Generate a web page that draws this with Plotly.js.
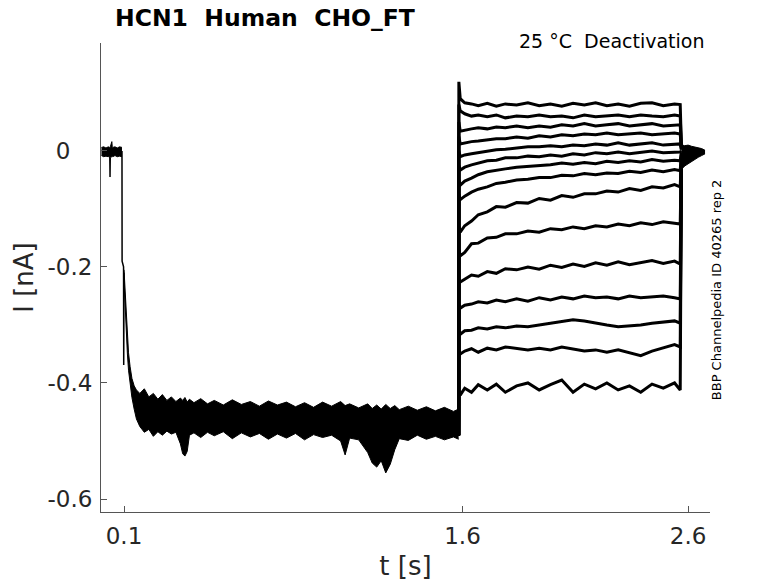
<!DOCTYPE html>
<html>
<head>
<meta charset="utf-8">
<script src="https://cdn.plot.ly/plotly-3.0.1.min.js"></script>
<style>
  html, body { margin: 0; padding: 0; background: #fff; }
  #chart { width: 778px; height: 583px; }
</style>
</head>
<body>
<div id="chart"></div>
<script>
// baseline before the hyperpolarising step (s, nA)
const tPre = [0, 0.01, 0.02, 0.03, 0.036, 0.038, 0.040, 0.046, 0.048, 0.05, 0.06, 0.07, 0.08, 0.091];
const iPreUpper = [0.006, 0.007, 0.005, 0.007, 0.006, 0.006, 0.008, 0.016, 0.007, 0.006, 0.007, 0.005, 0.007, 0.006];
const iPreLower = [-0.008, -0.010, -0.009, -0.010, -0.009, -0.045, -0.012, -0.010, -0.009, -0.010, -0.008, -0.010, -0.009, -0.010];

// capacitive transient at the step
const tOn = [0.091, 0.0915, 0.098, 0.0987, 0.1];
const iOn = [0.0, -0.19, -0.20, -0.369, -0.21];

// hyperpolarised phase, all sweeps overlap: upper / lower edge of the bundle
const tHyp = [0.100, 0.105, 0.110, 0.115, 0.120, 0.127, 0.135, 0.145, 0.155, 0.170,
  0.190, 0.210, 0.230, 0.250, 0.270, 0.290, 0.310, 0.330, 0.350, 0.360,
  0.370, 0.380, 0.390, 0.410, 0.440, 0.470, 0.500, 0.540, 0.580, 0.620,
  0.660, 0.700, 0.740, 0.780, 0.820, 0.860, 0.900, 0.940, 0.980, 1.020,
  1.060, 1.080, 1.100, 1.140, 1.180, 1.200, 1.220, 1.240, 1.260, 1.280,
  1.300, 1.320, 1.360, 1.400, 1.440, 1.480, 1.520, 1.560, 1.583];
const iHypUpper = [-0.205, -0.245, -0.285, -0.320, -0.348, -0.372, -0.392, -0.405, -0.412, -0.418,
  -0.410, -0.424, -0.418, -0.428, -0.420, -0.430, -0.424, -0.432, -0.426, -0.430,
  -0.425, -0.433, -0.428, -0.434, -0.427, -0.436, -0.430, -0.438, -0.429, -0.437,
  -0.432, -0.440, -0.431, -0.438, -0.433, -0.441, -0.434, -0.442, -0.433, -0.440,
  -0.432, -0.439, -0.436, -0.443, -0.436, -0.444, -0.438, -0.445, -0.437, -0.444,
  -0.439, -0.446, -0.440, -0.447, -0.441, -0.448, -0.442, -0.449, -0.445];
const iHypLower = [-0.225, -0.275, -0.315, -0.350, -0.378, -0.405, -0.425, -0.445, -0.462, -0.475,
  -0.485, -0.480, -0.492, -0.484, -0.490, -0.483, -0.488, -0.485, -0.505, -0.522,
  -0.526, -0.518, -0.490, -0.486, -0.494, -0.485, -0.491, -0.484, -0.496, -0.486,
  -0.493, -0.487, -0.497, -0.488, -0.495, -0.487, -0.498, -0.489, -0.494, -0.490,
  -0.500, -0.524, -0.495, -0.498, -0.520, -0.538, -0.545, -0.534, -0.555, -0.540,
  -0.515, -0.496, -0.499, -0.490, -0.497, -0.492, -0.498, -0.493, -0.497];

// deactivation steps
const tStep = 1.583;
const iStepFrom = -0.49;
const tDeact = [1.59, 1.61, 1.64, 1.67, 1.71, 1.75, 1.79, 1.84, 1.89, 1.94, 1.99, 2.04,
  2.09, 2.14, 2.19, 2.24, 2.29, 2.34, 2.39, 2.44, 2.49, 2.54, 2.565];
const deact1 = [0.090, 0.083, 0.081, 0.078, 0.082, 0.077, 0.081, 0.079, 0.083, 0.078, 0.081, 0.077, 0.082, 0.079, 0.083, 0.078, 0.081, 0.077, 0.082, 0.083, 0.078, 0.081, 0.080];
const deact2 = [0.069, 0.064, 0.060, 0.062, 0.059, 0.062, 0.057, 0.060, 0.059, 0.062, 0.059, 0.060, 0.057, 0.062, 0.059, 0.060, 0.062, 0.059, 0.062, 0.060, 0.059, 0.062, 0.060];
const deact3 = [0.034, 0.036, 0.038, 0.040, 0.038, 0.041, 0.040, 0.043, 0.040, 0.043, 0.041, 0.045, 0.043, 0.047, 0.043, 0.045, 0.047, 0.043, 0.045, 0.047, 0.043, 0.045, 0.045];
const deact4 = [0.012, 0.014, 0.016, 0.017, 0.019, 0.021, 0.021, 0.024, 0.022, 0.026, 0.024, 0.028, 0.026, 0.029, 0.028, 0.031, 0.028, 0.029, 0.031, 0.028, 0.029, 0.031, 0.029];
const deact5 = [-0.010, -0.007, -0.005, -0.003, 0.000, 0.002, 0.003, 0.005, 0.007, 0.007, 0.009, 0.007, 0.010, 0.009, 0.012, 0.010, 0.014, 0.010, 0.012, 0.014, 0.010, 0.012, 0.012];
const deact6 = [-0.033, -0.028, -0.024, -0.021, -0.017, -0.016, -0.012, -0.012, -0.009, -0.010, -0.007, -0.009, -0.005, -0.007, -0.003, -0.005, -0.002, -0.005, -0.002, 0.000, -0.003, -0.002, -0.002];
const deact7 = [-0.059, -0.052, -0.047, -0.041, -0.036, -0.033, -0.031, -0.028, -0.027, -0.025, -0.024, -0.021, -0.023, -0.020, -0.022, -0.018, -0.020, -0.017, -0.019, -0.015, -0.018, -0.016, -0.017];
const deact8 = [-0.084, -0.078, -0.071, -0.066, -0.062, -0.056, -0.054, -0.050, -0.049, -0.046, -0.046, -0.042, -0.043, -0.039, -0.041, -0.038, -0.039, -0.035, -0.037, -0.033, -0.036, -0.032, -0.034];
const deact9 = [-0.140, -0.129, -0.121, -0.110, -0.105, -0.096, -0.097, -0.089, -0.090, -0.082, -0.085, -0.077, -0.080, -0.074, -0.074, -0.069, -0.071, -0.065, -0.068, -0.062, -0.064, -0.058, -0.062];
const deact10 = [-0.181, -0.175, -0.160, -0.159, -0.150, -0.149, -0.143, -0.143, -0.138, -0.140, -0.134, -0.136, -0.131, -0.134, -0.129, -0.131, -0.126, -0.129, -0.124, -0.127, -0.122, -0.124, -0.126];
const deact11 = [-0.226, -0.221, -0.214, -0.216, -0.208, -0.211, -0.203, -0.205, -0.200, -0.204, -0.197, -0.201, -0.195, -0.199, -0.193, -0.197, -0.191, -0.196, -0.192, -0.189, -0.194, -0.190, -0.195];
const deact12 = [-0.271, -0.266, -0.264, -0.260, -0.262, -0.257, -0.260, -0.255, -0.259, -0.253, -0.257, -0.252, -0.255, -0.250, -0.253, -0.252, -0.255, -0.250, -0.253, -0.252, -0.250, -0.253, -0.255];
const deact13 = [-0.316, -0.310, -0.309, -0.305, -0.307, -0.303, -0.305, -0.302, -0.303, -0.300, -0.297, -0.293, -0.291, -0.293, -0.297, -0.300, -0.303, -0.302, -0.300, -0.297, -0.295, -0.293, -0.297];
const deact14 = [-0.350, -0.345, -0.341, -0.347, -0.340, -0.343, -0.338, -0.341, -0.343, -0.340, -0.343, -0.338, -0.341, -0.345, -0.343, -0.347, -0.343, -0.348, -0.353, -0.345, -0.340, -0.334, -0.338];
const deact15 = [-0.421, -0.409, -0.416, -0.403, -0.412, -0.402, -0.416, -0.405, -0.400, -0.412, -0.403, -0.395, -0.416, -0.402, -0.410, -0.400, -0.412, -0.405, -0.416, -0.402, -0.409, -0.400, -0.412];
const stepPeaks = [0.119, 0.080, 0.050, 0.025, 0.0, -0.025, -0.05, -0.075, -0.13, -0.17, -0.22, -0.265, -0.31, -0.345, -0.415];

// return to holding
const tOff = 2.57;
const offLevels = [0.010, 0.008, 0.006, 0.004, 0.002, 0.0, -0.003, -0.006, -0.010, -0.015, -0.020, -0.025, -0.030, -0.034, -0.038];
const tPost = [2.57, 2.575, 2.585, 2.60, 2.615, 2.63, 2.645, 2.66, 2.675];
const iPostUpper = [0.012, 0.010, 0.009, 0.010, 0.008, 0.007, 0.006, 0.004, 0.001];
const iPostLower = [-0.038, -0.030, -0.026, -0.022, -0.018, -0.014, -0.011, -0.008, -0.005];

const sweeps = [deact1, deact2, deact3, deact4, deact5, deact6, deact7, deact8,
  deact9, deact10, deact11, deact12, deact13, deact14, deact15];

const FONT = 'DejaVu Sans';
const INK = '#000000';

function band(x, lo, hi) {
  return [
    { x: x, y: hi, mode: 'lines', line: { color: INK, width: 1 }, hoverinfo: 'skip' },
    { x: x, y: lo, mode: 'lines', line: { color: INK, width: 1 }, fill: 'tonexty',
      fillcolor: INK, hoverinfo: 'skip' }
  ];
}

let data = [];
data = data.concat(band(tPre, iPreLower, iPreUpper));
data.push({ x: tOn, y: iOn, mode: 'lines', line: { color: INK, width: 1.5 }, hoverinfo: 'skip' });
data = data.concat(band(tHyp, iHypLower, iHypUpper));

sweeps.forEach(function (s, k) {
  let x = [tStep, tStep + 0.001].concat(tDeact, [tOff]);
  let y = [iStepFrom, stepPeaks[k]].concat(s, [offLevels[k]]);
  data.push({ x: x, y: y, mode: 'lines', line: { color: INK, width: 3 }, hoverinfo: 'skip' });
});

data = data.concat(band(tPost, iPostLower, iPostUpper));

let layout = {
  width: 778,
  height: 583,
  margin: { l: 101, r: 68, t: 43, b: 71 },
  paper_bgcolor: '#fff',
  plot_bgcolor: '#fff',
  showlegend: false,
  hovermode: false,
  font: { family: FONT, color: '#262626' },
  title: {
    text: '<b>HCN1\u00a0\u00a0Human\u00a0\u00a0CHO_FT</b>',
    font: { family: FONT, size: 23.5, color: '#000' },
    xref: 'container', yref: 'container',
    x: 115 / 778, xanchor: 'left',
    y: 1 - 18 / 583, yanchor: 'middle'
  },
  xaxis: {
    range: [-0.002, 2.697],
    tickvals: [0.1, 1.6, 2.6],
    ticktext: ['0.1', '1.6', '2.6'],
    ticks: 'inside', ticklen: 6, tickcolor: '#555',
    showline: true, linecolor: '#555', linewidth: 1,
    showgrid: false, zeroline: false,
    ticklabelstandoff: 3,
    tickfont: { family: FONT, size: 23, color: '#262626' },
    title: { text: 't [s]', font: { family: FONT, size: 26, color: '#262626' }, standoff: 9 }
  },
  yaxis: {
    range: [-0.6224, 0.186],
    tickvals: [0, -0.2, -0.4, -0.6],
    ticktext: ['0\u00a0\u00a0\u00a0', '-0.2', '-0.4', '-0.6'],
    ticks: 'inside', ticklen: 6, tickcolor: '#555',
    showline: true, linecolor: '#555', linewidth: 1,
    showgrid: false, zeroline: false,
    ticklabelstandoff: 3,
    tickfont: { family: FONT, size: 23, color: '#262626' },
    title: { text: 'I [nA]', font: { family: FONT, size: 26, color: '#262626' }, standoff: 6 }
  },
  annotations: [
    {
      text: '25 \u00b0C\u00a0\u00a0Deactivation',
      xref: 'paper', yref: 'paper',
      x: 0.9934, xanchor: 'right',
      y: 1.004, yanchor: 'middle',
      showarrow: false,
      font: { family: FONT, size: 19, color: '#000' }
    },
    {
      text: 'BBP Channelpedia ID 40265 rep 2',
      xref: 'paper', yref: 'paper',
      x: 1.0099, xanchor: 'center',
      y: 0.473, yanchor: 'middle',
      textangle: -90,
      showarrow: false,
      font: { family: FONT, size: 13, color: '#000' }
    }
  ]
};

Plotly.newPlot('chart', data, layout, { displayModeBar: false, staticPlot: true });
</script>
</body>
</html>
